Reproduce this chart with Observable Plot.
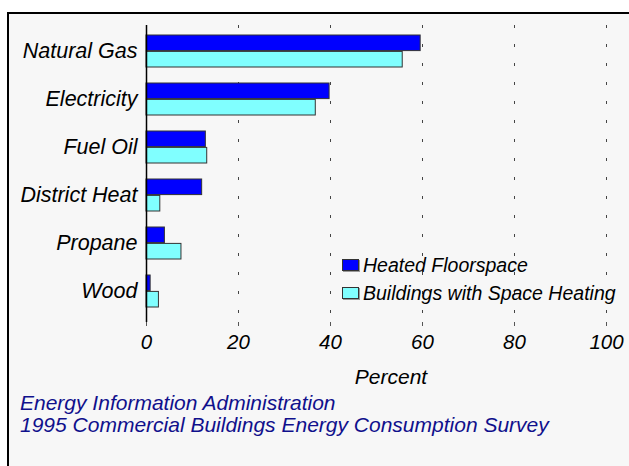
<!DOCTYPE html>
<html>
<head>
<meta charset="utf-8">
<script src="https://cdn.jsdelivr.net/npm/d3@7"></script>
<script src="https://cdn.jsdelivr.net/npm/@observablehq/plot@0.6"></script>
<style>
  html, body { margin: 0; padding: 0; background: #ffffff; overflow: hidden; width: 629px; height: 466px; }
  #frame { position: absolute; left: 7px; top: 12px; width: 700px; height: 600px;
           border-left: 2px solid #000; border-top: 2px solid #000; background: #f7f7f7; }
  #chart { position: absolute; left: 0; top: 0; }
  .txt { position: absolute; font-family: "Liberation Sans", Arial, sans-serif; font-style: italic; white-space: nowrap; }
  .legend-item { position: absolute; font-family: "Liberation Sans", Arial, sans-serif; font-style: italic; font-size: 19.5px; white-space: nowrap; color: #000; }
  .sw { position: absolute; width: 15px; height: 10px; border: 1px solid #333; box-shadow: 1px 1px 0 #999; }
</style>
</head>
<body>
<div id="frame"></div>
<div id="chart"></div>
<div class="txt" id="xlabel" style="left:0;width:782px;text-align:center;top:365px;font-size:21px;color:#000">Percent</div>
<div class="txt" style="left:20px;top:391px;font-size:21px;color:#10108c">Energy Information Administration</div>
<div class="txt" style="left:20px;top:413px;font-size:21px;color:#10108c">1995 Commercial Buildings Energy Consumption Survey</div>
<div id="legend"></div>
<script>
const categories = ["Natural Gas", "Electricity", "Fuel Oil", "District Heat", "Propane", "Wood"];
const heatedFloorspace = [59.6, 39.8, 12.9, 12.1, 4.0, 0.9];
const buildingsWithSpaceHeating = [55.7, 36.8, 13.2, 3.0, 7.6, 2.7];
const seriesNames = ["Heated Floorspace", "Buildings with Space Heating"];
const seriesColors = ["#0000ff", "#80ffff"];
const xTicks = [0, 20, 40, 60, 80, 100];
const gridTicks = [20, 40, 60, 80, 100];

const heated = categories.map((c, i) => ({category: c, value: heatedFloorspace[i]}));
const buildings = categories.map((c, i) => ({category: c, value: buildingsWithSpaceHeating[i]}));

const chart = Plot.plot({
  width: 629,
  height: 360,
  marginLeft: 146,
  marginRight: 23,
  marginTop: 25,
  marginBottom: 38,
  style: {background: "transparent", fontFamily: "Liberation Sans, Arial, sans-serif", fontSize: "21px", fontStyle: "italic", color: "#000"},
  x: {domain: [0, 100]},
  y: {domain: categories, range: [24.6, 317], padding: 0},
  marks: [
    Plot.ruleX(gridTicks, {stroke: "#444", strokeDasharray: "3,16", strokeOpacity: 1, strokeWidth: 1}),
    Plot.barX(heated, {y: "category", x: "value", fill: seriesColors[0], stroke: "#333", strokeWidth: 1, insetTop: 8, insetBottom: 24.4}),
    Plot.barX(buildings, {y: "category", x: "value", fill: seriesColors[1], stroke: "#333", strokeWidth: 1, insetTop: 24.4, insetBottom: 8}),
    Plot.ruleX([0], {stroke: "#000", strokeWidth: 1.5}),
    Plot.axisY({tickSize: 0, tickPadding: 9, label: null, fontSize: 21.5}),
    Plot.axisX({ticks: xTicks, tickSize: 4, tickPadding: 8, label: null, fontSize: 20.5, stroke: "#555"})
  ]
});
document.getElementById("chart").appendChild(chart);

const legend = document.getElementById("legend");
const legendY = [259, 287];
seriesNames.forEach((name, i) => {
  const sw = document.createElement("div");
  sw.className = "sw";
  sw.style.left = "342px";
  sw.style.top = legendY[i] + "px";
  sw.style.background = seriesColors[i];
  legend.appendChild(sw);
  const t = document.createElement("div");
  t.className = "legend-item";
  t.style.left = "363px";
  t.style.top = (legendY[i] - 5) + "px";
  t.textContent = name;
  legend.appendChild(t);
});
</script>
</body>
</html>
